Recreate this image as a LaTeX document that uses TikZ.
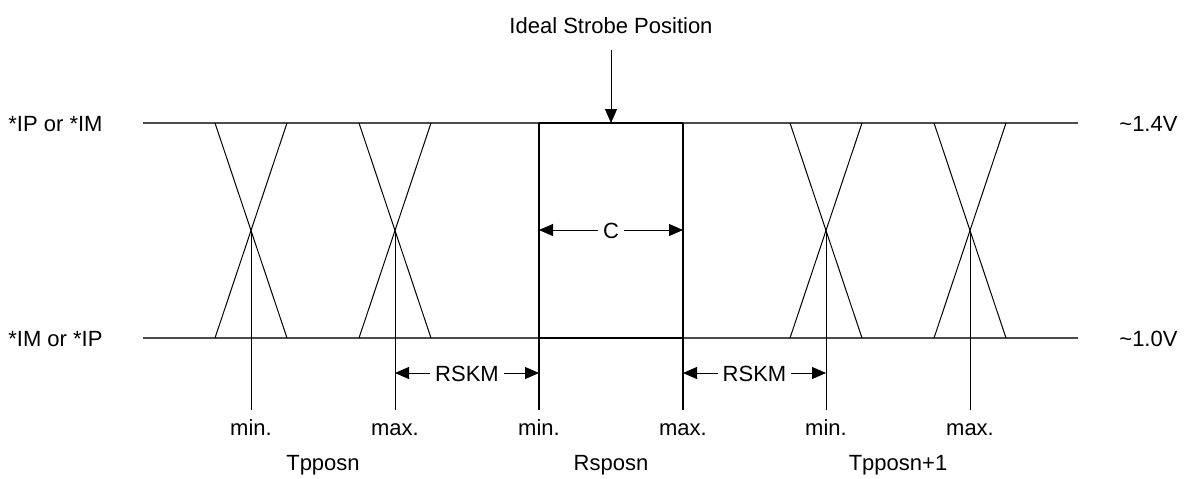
\documentclass[tikz,border=0pt]{standalone}
\usepackage{fontspec}
\setmainfont{Liberation Sans}
\usetikzlibrary{arrows.meta}
\begin{document}
\begin{tikzpicture}[x=0.5pt,y=-0.5pt,
  lbl/.style={font=\fontsize{11}{13}\selectfont, inner sep=0pt, anchor=base},
  dimlbl/.style={lbl, fill=white, inner xsep=2.5pt},
  rail/.style={line width=0.7pt, black!70},
  edge/.style={line width=0.5pt, black},
  boxline/.style={line width=0.6pt, black},
  tip/.style={-{Triangle[length=7pt,width=6pt]}},
  dtip/.style={{Triangle[length=7pt,width=6pt]}-{Triangle[length=7pt,width=6pt]}}]
\useasboundingbox (0,0) rectangle (1187,478);

% rails
\coordinate (tl) at (143,123); \coordinate (tr) at (1078,123);
\coordinate (bl) at (143,338); \coordinate (br) at (1078,338);
\draw[rail] (tl) -- (tr);
\draw[rail] (bl) -- (br);

% side labels
\node[lbl, anchor=base west] (ipim) at (8,131) {*IP or *IM};
\node[lbl, anchor=base west] (imip) at (8,346) {*IM or *IP};
\node[lbl, anchor=base west] (v14) at (1119,131) {\textasciitilde1.4V};
\node[lbl, anchor=base west] (v10) at (1119,346) {\textasciitilde1.0V};

% crosses and their reference lines
\foreach \c/\n in {251/a,395/b,826/c,970/d}{
  \coordinate (\n tl) at (\c-36,123); \coordinate (\n tr) at (\c+36,123);
  \coordinate (\n bl) at (\c-36,338); \coordinate (\n br) at (\c+36,338);
  \coordinate (\n x) at (\c,230.5);
  \coordinate (\n e) at (\c,410);
  \draw[edge] (\n tl) -- (\n br);
  \draw[edge] (\n tr) -- (\n bl);
  \draw[edge] (\n x) -- (\n e);
}

% strobe box
\coordinate (s1) at (539,123); \coordinate (s2) at (683,123);
\coordinate (s3) at (539,410); \coordinate (s4) at (683,410);
\coordinate (s5) at (539,338); \coordinate (s6) at (683,338);
\draw[boxline] (s1) -- (s2);
\draw[boxline] (s5) -- (s6);
\draw[boxline] (s1) -- (s3);
\draw[boxline] (s2) -- (s4);

% ideal strobe
\node[lbl] (ideal) at (611,33) {Ideal Strobe Position};
\coordinate (ia) at (611,50); \coordinate (ib) at (611,123);
\draw[edge, tip] (ia) -- (ib);

% dimensions
\coordinate (c1) at (539,230); \coordinate (c2) at (683,230);
\draw[edge, dtip] (c1) -- (c2);
\node[dimlbl] (C) at (611,238) {C};

\coordinate (r1) at (395,373); \coordinate (r2) at (539,373);
\draw[edge, dtip] (r1) -- (r2);
\node[dimlbl] (rskm1) at (467,381) {RSKM};

\coordinate (r3) at (683,373); \coordinate (r4) at (826,373);
\draw[edge, dtip] (r3) -- (r4);
\node[dimlbl] (rskm2) at (754.5,381) {RSKM};

% min/max labels
\node[lbl] (m1) at (251,435) {min.};
\node[lbl] (m2) at (395,435) {max.};
\node[lbl] (m3) at (539,435) {min.};
\node[lbl] (m4) at (683,435) {max.};
\node[lbl] (m5) at (826,435) {min.};
\node[lbl] (m6) at (970,435) {max.};

\node[lbl] (tp) at (323,470) {Tpposn};
\node[lbl] (rs) at (611,470) {Rsposn};
\node[lbl] (tp1) at (898,470) {Tpposn+1};
\end{tikzpicture}
\end{document}
